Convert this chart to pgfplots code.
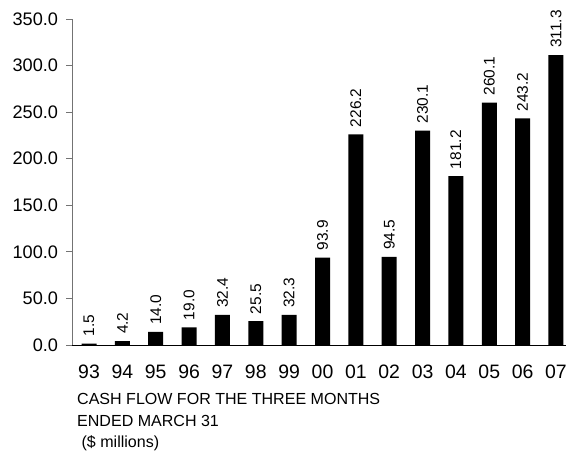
\documentclass[border=0pt]{standalone}
\usepackage{pgfplots}
\pgfplotsset{compat=1.18}
\usepackage{fontspec}
\setmainfont{Liberation Sans}
\begin{document}
\begin{tikzpicture}
\begin{axis}[
  name=ax,
  at={(0,0)}, anchor=south west,
  scale only axis,
  width=494bp, height=326bp,
  xmin=-0.51, xmax=14.3,
  ymin=0, ymax=350,
  axis x line*=bottom,
  axis y line*=left,
  x axis line style={draw=black, line width=0.8pt, -},
  y axis line style={draw=black!55, line width=0.8pt, -},
  ytick={0,50,...,350},
  ytick style={draw=black!55, line width=0.8pt},
  tick align=outside,
  major tick length=5.5bp,
  xtick={0,...,14},
  xticklabels={93,94,95,96,97,98,99,00,01,02,03,04,05,06,07},
  xtick style={draw=none},
  /pgf/number format/assume math mode=true,
  yticklabel style={/pgf/number format/.cd, fixed, fixed zerofill, precision=1, /tikz/.cd, font=\fontsize{18.2}{20}\selectfont, xshift=-5bp},
  xticklabel style={font=\fontsize{19.5}{21}\selectfont, yshift=-11bp},
  ybar, bar width=15bp,
  nodes near coords,
  nodes near coords style={/pgf/number format/.cd, fixed, fixed zerofill, precision=1, /tikz/.cd},
  every node near coord/.append style={rotate=90, anchor=west, font=\fontsize{15.5}{17}\selectfont, inner sep=0pt, inner xsep=7bp},
  clip=false,
]
\addplot[fill=black, draw=none] coordinates {
(0,1.5) (1,4.2) (2,14.0) (3,19.0) (4,32.4) (5,25.5) (6,32.3) (7,93.9)
(8,226.2) (9,94.5) (10,230.1) (11,181.2) (12,260.1) (13,243.2) (14,311.3)};
\end{axis}
\node[anchor=base west, inner sep=0pt, font=\fontsize{16.1}{18}\selectfont] at (5bp,-59bp) {CASH FLOW FOR THE THREE MONTHS};
\node[anchor=base west, inner sep=0pt, font=\fontsize{16.1}{18}\selectfont] at (5bp,-81bp) {ENDED MARCH 31};
\node[anchor=base west, inner sep=0pt, font=\fontsize{16.1}{18}\selectfont] at (5bp,-102bp) {\ (\$ millions)};
\pgfresetboundingbox
\path (-72bp,-109bp) rectangle (494bp,345bp);
\end{tikzpicture}
\end{document}
